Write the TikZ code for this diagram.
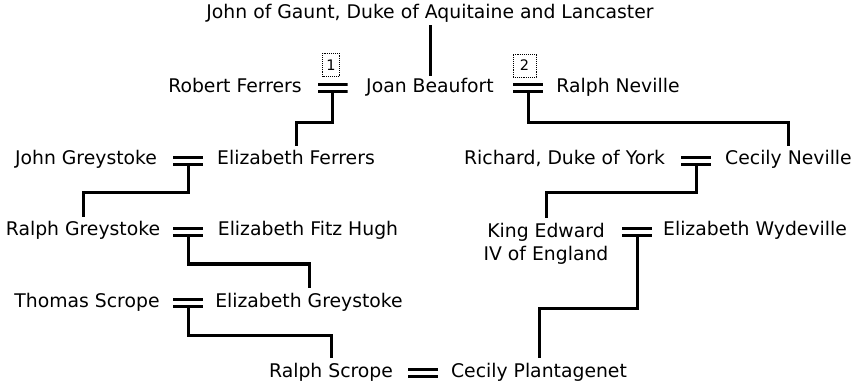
\documentclass[tikz,border=0pt]{standalone}
\usepackage{fontspec}
\setmainfont{DejaVu Sans}
\usetikzlibrary{positioning}

\begin{document}
\begin{tikzpicture}[x=1pt, y=-1pt]

% --- Define Styles ---
\tikzstyle{person} = [inner xsep=4pt, inner ysep=5pt, text height=14pt, text depth=4pt, font=\fontsize{18.8}{23}\selectfont]
\tikzstyle{wed} = [minimum width=30pt, minimum height=10pt, inner sep=0pt, path picture={
  \fill (path picture bounding box.north west) rectangle ([yshift=-3pt]path picture bounding box.north east);
  \fill ([yshift=3pt]path picture bounding box.south west) rectangle (path picture bounding box.south east);}]
\tikzstyle{order} = [draw, densely dotted, line width=0.9pt, minimum height=23pt, inner sep=0pt, font=\fontsize{14.5}{16}\selectfont]
\tikzstyle{line} = [line width=3pt]

\useasboundingbox (0,0) rectangle (856,387);

% --- Nodes ---
\node (gaunt) [person, inner ysep=2pt] at (430,14) {John of Gaunt, Duke of Aquitaine and Lancaster};

\node (robert) [person] at (235,88) {Robert Ferrers};
\node (joan) [person, inner ysep=3pt] at (430,88) {Joan Beaufort};
\node (ralphN) [person] at (618,88) {Ralph Neville};
\node (m1) [wed] at (332.5,88) {};
\node (m2) [wed] at (528,88) {};
\node (o1) [order, minimum width=17pt] at (331,65) {1};
\node (o2) [order, minimum width=23pt] at (524.5,65.5) {2};

\node (johnG) [person] at (86,160) {John Greystoke};
\node (elizF) [person] at (296,160) {Elizabeth Ferrers};
\node (m3) [wed] at (188,161) {};
\node (richard) [person] at (564.5,160) {Richard, Duke of York};
\node (cecilyN) [person] at (788.5,160) {Cecily Neville};
\node (m4) [wed] at (696,161) {};

\node (ralphG) [person] at (83,231) {Ralph Greystoke};
\node (elizFH) [person] at (308,231) {Elizabeth Fitz Hugh};
\node (m5) [wed] at (188,232) {};
\node (edward) [person, text height=, text depth=, align=center] at (546,243.5) {King Edward\\IV of England};
\node (elizW) [person] at (755,231) {Elizabeth Wydeville};
\node (m6) [wed] at (637,232) {};

\node (thomas) [person] at (87,302) {Thomas Scrope};
\node (elizG) [person] at (309,302) {Elizabeth Greystoke};
\node (m7) [wed] at (188,303) {};

\node (ralphS) [person] at (331,372) {Ralph Scrope};
\node (cecilyP) [person] at (539,372) {Cecily Plantagenet};
\node (m8) [wed] at (423,373) {};

% --- Lines ---
\draw [line] (gaunt) -- (joan);
\draw [line] (m1.south) -- (m1.south |- 0,123) -| (elizF.north);
\draw [line] (m2.south) -- (m2.south |- 0,123) -| (cecilyN.north);
\draw [line] (m3.south) -- (m3.south |- 0,193) -| (ralphG.north);
\draw [line] (m4.south) -- (m4.south |- 0,193) -| (edward.north);
\draw [line] (m5.south) -- (m5.south |- 0,264) -| (elizG.north);
\draw [line] (m6.south) -- (m6.south |- 0,308) -| (cecilyP.north);
\draw [line] (m7.south) -- (m7.south |- 0,335) -| (ralphS.north);

\end{tikzpicture}
\end{document}
